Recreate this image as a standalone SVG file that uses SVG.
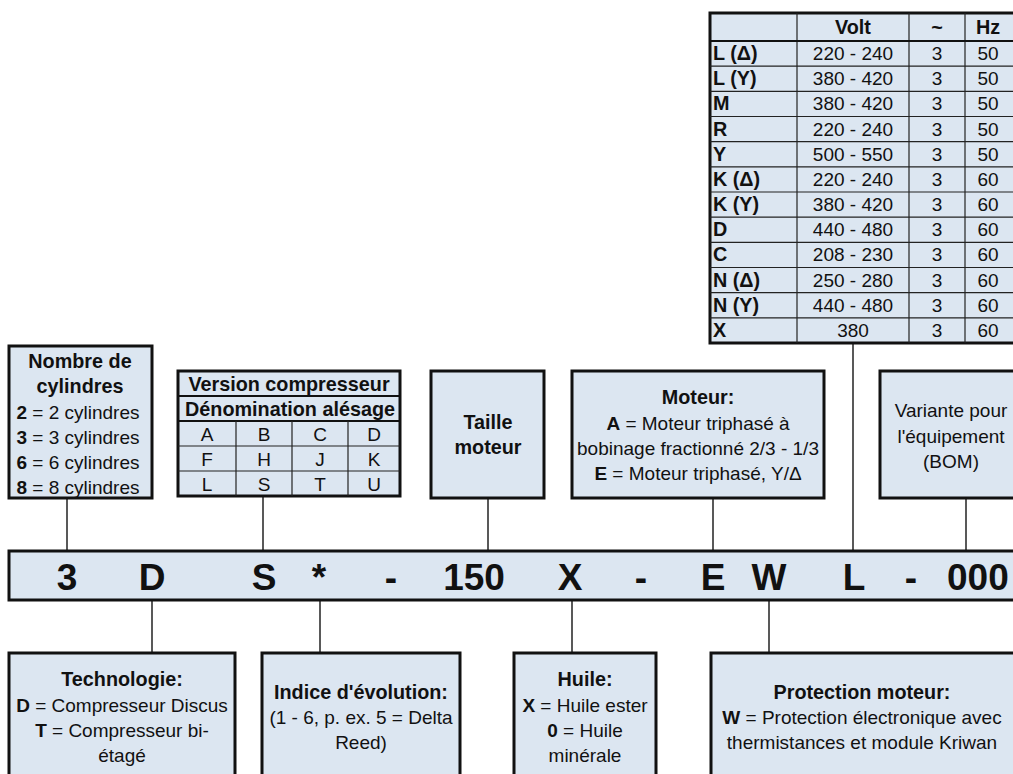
<svg xmlns="http://www.w3.org/2000/svg" width="1013" height="774" viewBox="0 0 1013 774">
  <style>
    .box { fill: #dce6f1; stroke: #111; stroke-width: 3; }
    .cell { fill: none; stroke: #222; stroke-width: 1.2; }
    .sep { stroke: #111; stroke-width: 2; }
    .wire { stroke: #222; stroke-width: 1.5; fill: none; }
    text { font-family: "Liberation Sans", Arial, sans-serif; font-size: 19px; fill: #111; }
    .c { text-anchor: middle; }
    .b { font-weight: bold; }
    text.b { font-size: 19.8px; }
    .code { font-size: 37px; font-weight: bold; text-anchor: middle; }
  </style>

  <rect width="1013" height="774" fill="#ffffff"/>

  <!-- connectors -->
  <g id="connectors">
    <line class="wire" x1="67" y1="498" x2="67" y2="551"/>
    <line class="wire" x1="263" y1="496" x2="263" y2="551"/>
    <line class="wire" x1="488" y1="498" x2="488" y2="551"/>
    <line class="wire" x1="713" y1="498" x2="713" y2="551"/>
    <line class="wire" x1="853" y1="343" x2="853" y2="551"/>
    <line class="wire" x1="966" y1="498" x2="966" y2="551"/>
    <line class="wire" x1="152" y1="600" x2="152" y2="653"/>
    <line class="wire" x1="320" y1="600" x2="320" y2="653"/>
    <line class="wire" x1="572" y1="600" x2="572" y2="653"/>
    <line class="wire" x1="769" y1="600" x2="769" y2="653"/>
  </g>

  <!-- voltage table -->
  <g id="voltage-table">
    <rect class="box" x="710" y="13" width="310" height="330"/>
    <line class="cell" x1="797" y1="13" x2="797" y2="343"/>
    <line class="cell" x1="909" y1="13" x2="909" y2="343"/>
    <line class="cell" x1="965" y1="13" x2="965" y2="343"/>
    <line class="sep" x1="710" y1="41" x2="1013" y2="41"/>
    <g class="cell">
      <line x1="710" y1="66.2" x2="1013" y2="66.2"/>
      <line x1="710" y1="91.3" x2="1013" y2="91.3"/>
      <line x1="710" y1="116.5" x2="1013" y2="116.5"/>
      <line x1="710" y1="141.7" x2="1013" y2="141.7"/>
      <line x1="710" y1="166.8" x2="1013" y2="166.8"/>
      <line x1="710" y1="192" x2="1013" y2="192"/>
      <line x1="710" y1="217.2" x2="1013" y2="217.2"/>
      <line x1="710" y1="242.3" x2="1013" y2="242.3"/>
      <line x1="710" y1="267.5" x2="1013" y2="267.5"/>
      <line x1="710" y1="292.7" x2="1013" y2="292.7"/>
      <line x1="710" y1="317.8" x2="1013" y2="317.8"/>
    </g>
    <text class="b c" x="853" y="34">Volt</text>
    <text class="b c" x="937" y="34">~</text>
    <text class="b c" x="988" y="34">Hz</text>

    <g>
      <text class="b" x="713" y="60">L (Δ)</text>
      <text class="b" x="713" y="85">L (Y)</text>
      <text class="b" x="713" y="110">M</text>
      <text class="b" x="713" y="136">R</text>
      <text class="b" x="713" y="161">Y</text>
      <text class="b" x="713" y="186">K (Δ)</text>
      <text class="b" x="713" y="211">K (Y)</text>
      <text class="b" x="713" y="236">D</text>
      <text class="b" x="713" y="261">C</text>
      <text class="b" x="713" y="287">N (Δ)</text>
      <text class="b" x="713" y="312">N (Y)</text>
      <text class="b" x="713" y="337">X</text>
    </g>
    <g class="c">
      <text x="853" y="60">220 - 240</text>
      <text x="853" y="85">380 - 420</text>
      <text x="853" y="110">380 - 420</text>
      <text x="853" y="136">220 - 240</text>
      <text x="853" y="161">500 - 550</text>
      <text x="853" y="186">220 - 240</text>
      <text x="853" y="211">380 - 420</text>
      <text x="853" y="236">440 - 480</text>
      <text x="853" y="261">208 - 230</text>
      <text x="853" y="287">250 - 280</text>
      <text x="853" y="312">440 - 480</text>
      <text x="853" y="337">380</text>
    </g>
    <g class="c">
      <text x="937" y="60">3</text>
      <text x="937" y="85">3</text>
      <text x="937" y="110">3</text>
      <text x="937" y="136">3</text>
      <text x="937" y="161">3</text>
      <text x="937" y="186">3</text>
      <text x="937" y="211">3</text>
      <text x="937" y="236">3</text>
      <text x="937" y="261">3</text>
      <text x="937" y="287">3</text>
      <text x="937" y="312">3</text>
      <text x="937" y="337">3</text>
    </g>
    <g class="c">
      <text x="988" y="60">50</text>
      <text x="988" y="85">50</text>
      <text x="988" y="110">50</text>
      <text x="988" y="136">50</text>
      <text x="988" y="161">50</text>
      <text x="988" y="186">60</text>
      <text x="988" y="211">60</text>
      <text x="988" y="236">60</text>
      <text x="988" y="261">60</text>
      <text x="988" y="287">60</text>
      <text x="988" y="312">60</text>
      <text x="988" y="337">60</text>
    </g>
  </g>

  <!-- number of cylinders -->
  <g id="cylindres">
    <rect class="box" x="9" y="346" width="143" height="152"/>
    <text class="b c" x="80" y="368">Nombre de</text>
    <text class="b c" x="80" y="393">cylindres</text>
    <text class="c" x="78" y="419"><tspan class="b">2</tspan> = 2 cylindres</text>
    <text class="c" x="78" y="444"><tspan class="b">3</tspan> = 3 cylindres</text>
    <text class="c" x="78" y="469"><tspan class="b">6</tspan> = 6 cylindres</text>
    <text class="c" x="78" y="494"><tspan class="b">8</tspan> = 8 cylindres</text>
  </g>

  <!-- compressor version / bore -->
  <g id="version">
    <rect class="box" x="178" y="371" width="222" height="125"/>
    <line class="sep" x1="178" y1="396" x2="400" y2="396"/>
    <line class="sep" x1="178" y1="421" x2="400" y2="421"/>
    <line class="cell" x1="178" y1="446" x2="400" y2="446"/>
    <line class="cell" x1="178" y1="471" x2="400" y2="471"/>
    <line class="cell" x1="236" y1="421" x2="236" y2="496"/>
    <line class="cell" x1="292" y1="421" x2="292" y2="496"/>
    <line class="cell" x1="348" y1="421" x2="348" y2="496"/>
    <text class="b c" x="289" y="391">Version compresseur</text>
    <text class="b c" x="290" y="416">Dénomination alésage</text>
    <text class="c" x="207" y="441">A</text>
    <text class="c" x="264" y="441">B</text>
    <text class="c" x="320" y="441">C</text>
    <text class="c" x="374" y="441">D</text>
    <text class="c" x="207" y="466">F</text>
    <text class="c" x="264" y="466">H</text>
    <text class="c" x="320" y="466">J</text>
    <text class="c" x="374" y="466">K</text>
    <text class="c" x="207" y="491">L</text>
    <text class="c" x="264" y="491">S</text>
    <text class="c" x="320" y="491">T</text>
    <text class="c" x="374" y="491">U</text>
  </g>

  <!-- motor size -->
  <g id="taille-moteur">
    <rect class="box" x="431" y="371" width="113" height="127"/>
    <text class="b c" x="488" y="429">Taille</text>
    <text class="b c" x="488" y="454">moteur</text>
  </g>

  <!-- motor type -->
  <g id="moteur">
    <rect class="box" x="572" y="371" width="252" height="127"/>
    <text class="b c" x="698" y="404">Moteur:</text>
    <text class="c" x="698" y="430"><tspan class="b">A</tspan> = Moteur triphasé à</text>
    <text class="c" x="698" y="455">bobinage fractionné 2/3 - 1/3</text>
    <text class="c" x="698" y="480"><tspan class="b">E</tspan> = Moteur triphasé, Y/Δ</text>
  </g>

  <!-- equipment variant -->
  <g id="variante">
    <rect class="box" x="880" y="371" width="142" height="127"/>
    <text class="c" x="951" y="417">Variante pour</text>
    <text class="c" x="951" y="443">l'équipement</text>
    <text class="c" x="951" y="468">(BOM)</text>
  </g>

  <!-- type code bar -->
  <g id="code">
    <rect class="box" x="9" y="551" width="1012" height="49"/>
    <text class="code" x="67" y="590">3</text>
    <text class="code" x="152" y="590">D</text>
    <text class="code" x="264" y="590">S</text>
    <text class="code" x="319" y="590">*</text>
    <text class="code" x="391" y="590">-</text>
    <text class="code" x="474" y="590">150</text>
    <text class="code" x="570" y="590">X</text>
    <text class="code" x="641" y="590">-</text>
    <text class="code" x="713" y="590">E</text>
    <text class="code" x="769" y="590">W</text>
    <text class="code" x="854" y="590">L</text>
    <text class="code" x="911" y="590">-</text>
    <text class="code" x="947" y="590" style="text-anchor:start">000</text>
  </g>

  <!-- technology -->
  <g id="technologie">
    <rect class="box" x="9" y="653" width="226" height="130"/>
    <text class="b c" x="122" y="686">Technologie:</text>
    <text class="c" x="122" y="712"><tspan class="b">D</tspan> = Compresseur Discus</text>
    <text class="c" x="122" y="737"><tspan class="b">T</tspan> = Compresseur bi-</text>
    <text class="c" x="122" y="762">étagé</text>
  </g>

  <!-- evolution index -->
  <g id="indice">
    <rect class="box" x="262" y="653" width="198" height="130"/>
    <text class="b c" x="361" y="699">Indice d'évolution:</text>
    <text class="c" x="361" y="724">(1 - 6, p. ex. 5 = Delta</text>
    <text class="c" x="361" y="749">Reed)</text>
  </g>

  <!-- oil -->
  <g id="huile">
    <rect class="box" x="514" y="653" width="142" height="130"/>
    <text class="b c" x="585" y="686">Huile:</text>
    <text class="c" x="585" y="712"><tspan class="b">X</tspan> = Huile ester</text>
    <text class="c" x="585" y="737"><tspan class="b">0</tspan> = Huile</text>
    <text class="c" x="585" y="762">minérale</text>
  </g>

  <!-- motor protection -->
  <g id="protection">
    <rect class="box" x="711" y="653" width="310" height="130"/>
    <text class="b c" x="862" y="699">Protection moteur:</text>
    <text class="c" x="862" y="724"><tspan class="b">W</tspan> = Protection électronique avec</text>
    <text class="c" x="862" y="749">thermistances et module Kriwan</text>
  </g>
</svg>
